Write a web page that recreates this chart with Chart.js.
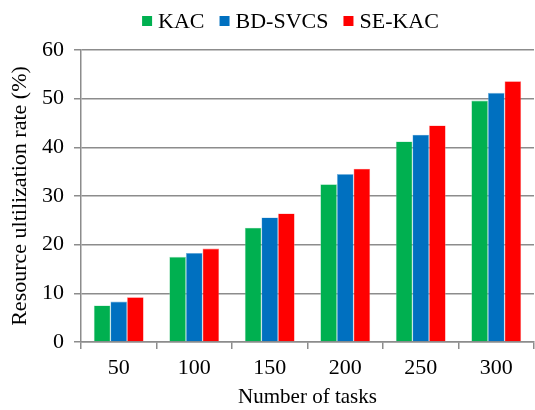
<!DOCTYPE html>
<html lang="en">
<head>
    <meta charset="UTF-8">
    <title>Resource utilization</title>
    <script src="https://cdn.jsdelivr.net/npm/chart.js"></script>
    <style>
        body {
            margin: 0;
            padding: 0;
            background-color: #fff;
        }

        #wrap {
            width: 535px;
            height: 410px;
        }
    </style>
</head>
<body>
<div id="wrap">
    <canvas id="chart"></canvas>
</div>

<script>
    var taskCounts = ['50', '100', '150', '200', '250', '300'];
    var kacValues = [7.5, 17.5, 23.5, 32.4, 41.2, 49.6];
    var bdsvcsValues = [8.3, 18.3, 25.6, 34.5, 42.6, 51.2];
    var sekacValues = [9.2, 19.2, 26.4, 35.6, 44.5, 53.6];
    var yTicks = [0, 10, 20, 30, 40, 50, 60];

    var serif = "'Liberation Serif', 'Times New Roman', serif";
    var axisGray = '#8c8c8c';

    // legend drawn by hand: chart.js puts too much room between box and text
    var topLegend = {
        id: 'topLegend',
        afterDraw: function (chart) {
            var c = chart.ctx;
            var box = 10, gap = 6, itemGap = 15, cy = 21;
            c.save();
            c.font = '22px ' + serif;
            c.textBaseline = 'middle';
            var items = chart.data.datasets.map(function (ds) {
                return {text: ds.label, color: ds.backgroundColor, w: c.measureText(ds.label).width};
            });
            var total = 0;
            items.forEach(function (it, i) {
                total += box + gap + it.w + (i > 0 ? itemGap : 0);
            });
            var x = 290.5 - total / 2;
            items.forEach(function (it) {
                c.fillStyle = it.color;
                c.fillRect(x, cy - box / 2, box, box);
                c.fillStyle = '#000';
                c.fillText(it.text, x + box + gap, cy + 1);
                x += box + gap + it.w + itemGap;
            });
            c.restore();
        }
    };

    var ctx = document.getElementById('chart').getContext('2d');
    new Chart(ctx, {
        type: 'bar',
        data: {
            labels: taskCounts,
            datasets: [{
                label: 'KAC',
                data: kacValues,
                backgroundColor: '#00b050',
                borderColor: '#7fd8a8',
                borderWidth: 0.6
            }, {
                label: 'BD-SVCS',
                data: bdsvcsValues,
                backgroundColor: '#0070c0',
                borderColor: '#7fb8e0',
                borderWidth: 0.6
            }, {
                label: 'SE-KAC',
                data: sekacValues,
                backgroundColor: '#ff0000',
                borderColor: '#ff8080',
                borderWidth: 0.6
            }]
        },
        plugins: [topLegend],
        options: {
            responsive: true,
            maintainAspectRatio: false,
            animation: false,
            layout: {
                padding: {left: 0, right: 1, top: 50, bottom: 0}
            },
            datasets: {
                bar: {
                    categoryPercentage: 0.66,
                    barPercentage: 1.0
                }
            },
            plugins: {
                legend: {display: false},
                tooltip: {enabled: false}
            },
            scales: {
                x: {
                    grid: {
                        offset: true,
                        drawOnChartArea: false,
                        drawTicks: true,
                        tickLength: 7,
                        color: axisGray,
                        lineWidth: 1.5
                    },
                    border: {color: axisGray, width: 1.5},
                    ticks: {
                        color: '#000',
                        padding: 6,
                        font: {family: serif, size: 22}
                    },
                    title: {
                        display: true,
                        text: 'Number of tasks',
                        color: '#000',
                        padding: {top: 4, bottom: 0},
                        font: {family: serif, size: 21}
                    },
                    afterFit: function (scale) {
                        scale.height = 68;
                    }
                },
                y: {
                    min: 0,
                    max: 60,
                    afterBuildTicks: function (scale) {
                        scale.ticks = yTicks.map(function (v) { return {value: v}; });
                    },
                    grid: {
                        color: axisGray,
                        lineWidth: 1.5,
                        tickLength: 7
                    },
                    border: {color: axisGray, width: 1.5},
                    ticks: {
                        color: '#000',
                        padding: 10,
                        font: {family: serif, size: 22}
                    },
                    title: {
                        display: true,
                        text: 'Resource ultilization rate (%)',
                        color: '#000',
                        padding: {top: 7, bottom: 0},
                        font: {family: serif, size: 22}
                    },
                    afterFit: function (scale) {
                        scale.width = 81;
                    }
                }
            }
        }
    });
</script>
</body>
</html>
